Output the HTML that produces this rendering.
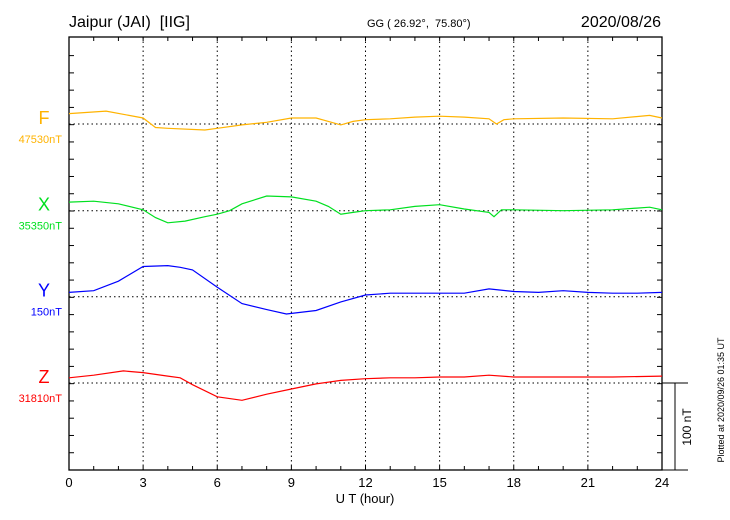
<!DOCTYPE html>
<html><head><meta charset="utf-8"><style>
body{margin:0;background:#fff;}
svg{display:block;font-family:"Liberation Sans",sans-serif;}
</style></head><body>
<svg id="chart" width="730" height="520" xmlns="http://www.w3.org/2000/svg">
<text x="69" y="27" font-size="16" fill="#000">Jaipur (JAI)&#160; [IIG]</text>
<text x="367" y="27" font-size="11" fill="#000">GG ( 26.92°,&#160; 75.80°)</text>
<text x="661" y="27" font-size="16" fill="#000" text-anchor="end">2020/08/26</text>
<text x="365" y="503" font-size="13" text-anchor="middle" fill="#000">U T (hour)</text>
<text transform="translate(724,400) rotate(-90)" font-size="9" text-anchor="middle" fill="#000">Plotted at 2020/09/26 01:35 UT</text>
<text transform="translate(691,427) rotate(-90)" font-size="12" text-anchor="middle" fill="#000">100 nT</text>
<g id="g"></g>
</svg>
<script>
const hoursF=[0,1.5,3,3.5,4,5.5,6,7,8,9,10,10.5,11,11.5,12,13,14,15,16,17,17.3,17.6,18,20,22,23.5,24];
const valuesF=[12,15,7,-4,-5,-7,-5,-1,2,7,7,3,-1,3,5,6,8,9,8,6,0,5,6,7,6,10,7];
const hoursX=[0,1,2,3,3.5,4,4.7,5.5,6,6.5,7,8,9,10,10.5,11,11.5,12,13,14,15,16,17,17.2,17.5,18,20,22,23.5,24];
const valuesX=[10,11,8,1,-8,-14,-12,-7,-4,0,8,17,16,11,5,-4,-2,0,1,5,7,2,-2,-7,1,1,0,1,4,1];
const hoursY=[0,1,2,3,4,4.5,5,6,7,8,8.8,10,11,12,13,14,15,16,17,18,19,20,21,22,23,24];
const valuesY=[5,7,18,35,36,34,31,11,-8,-15,-20,-16,-6,2,4,4,4,4,9,6,5,7,5,4,4,5];
const hoursZ=[0,1,2.2,3,4,4.5,5,6,7,8,9,10,11,12,13,14,15,16,17,18,20,22,24];
const valuesZ=[6,9,14,12,8,6,-2,-16,-20,-13,-7,-1,3,5,6,6,7,7,9,7,7,7,8];
const xTickLabels=["0","3","6","9","12","15","18","21","24"];
const seriesNames=["F","X","Y","Z"];
const baseLabels=["47530nT","35350nT","150nT","31810nT"];

const L=69,R=662,T=37,B=470,PXNT=0.8633;
const xs=h=>L+(R-L)*h/24;
const bases=[124,210.7,296.7,383];
const ys=(v,i)=>bases[i]-v*PXNT;
const NS="http://www.w3.org/2000/svg";
const g=document.getElementById('g');
function mk(tag,at){const e=document.createElementNS(NS,tag);for(const k in at)e.setAttribute(k,at[k]);g.appendChild(e);return e;}
const colors=["#ffb300","#00e020","#0000ff","#ff0000"];
for(let h=3;h<24;h+=3){const l=mk('line',{x1:xs(h),x2:xs(h),y1:T,y2:B,stroke:'#000','stroke-width':1,'stroke-dasharray':'1.5,3'});

}
bases.forEach((b,i)=>{const l=mk('line',{x1:L,x2:R,y1:b,y2:b,stroke:'#000','stroke-width':1,'stroke-dasharray':'1.5,3'});

});
const fr=mk('rect',{x:L,y:T,width:R-L,height:B-T,fill:'none',stroke:'#000','stroke-width':1.3});


for(let h=1;h<24;h++){mk('line',{x1:xs(h),x2:xs(h),y1:T,y2:T+4,stroke:'#000'});mk('line',{x1:xs(h),x2:xs(h),y1:B,y2:B-4,stroke:'#000'});}
for(let k=1;k<25;k++){const y=B-k*PXNT*20;if(y<=T+1)break;mk('line',{x1:L,x2:L+5,y1:y,y2:y,stroke:'#000'});mk('line',{x1:R,x2:R-5,y1:y,y2:y,stroke:'#000'});}
xTickLabels.forEach((t,i)=>{const e=mk('text',{x:xs(i*3),y:487,'font-size':13,'text-anchor':'middle',fill:'#000'});e.textContent=t;

});
const sb=mk('path',{d:`M${R},383H688M${R},${B}H688M675,383V${B}`,stroke:'#000',fill:'none'});


const H=[hoursF,hoursX,hoursY,hoursZ],V=[valuesF,valuesX,valuesY,valuesZ];
seriesNames.forEach((n,i)=>{
 const d=H[i].map((h,j)=>(j?'L':'M')+xs(h).toFixed(1)+','+ys(V[i][j],i).toFixed(1)).join('');
 const p=mk('path',{d:d,fill:'none',stroke:colors[i],'stroke-width':1.2});
 
 
 const t=mk('text',{x:44,y:bases[i]-0,'font-size':18,'text-anchor':'middle',fill:colors[i]});t.textContent=n;
 
 
 const b=mk('text',{x:62,y:bases[i]+19,'font-size':11,'text-anchor':'end',fill:colors[i]});b.textContent=baseLabels[i];
 
 
});
</script>
</body></html>
